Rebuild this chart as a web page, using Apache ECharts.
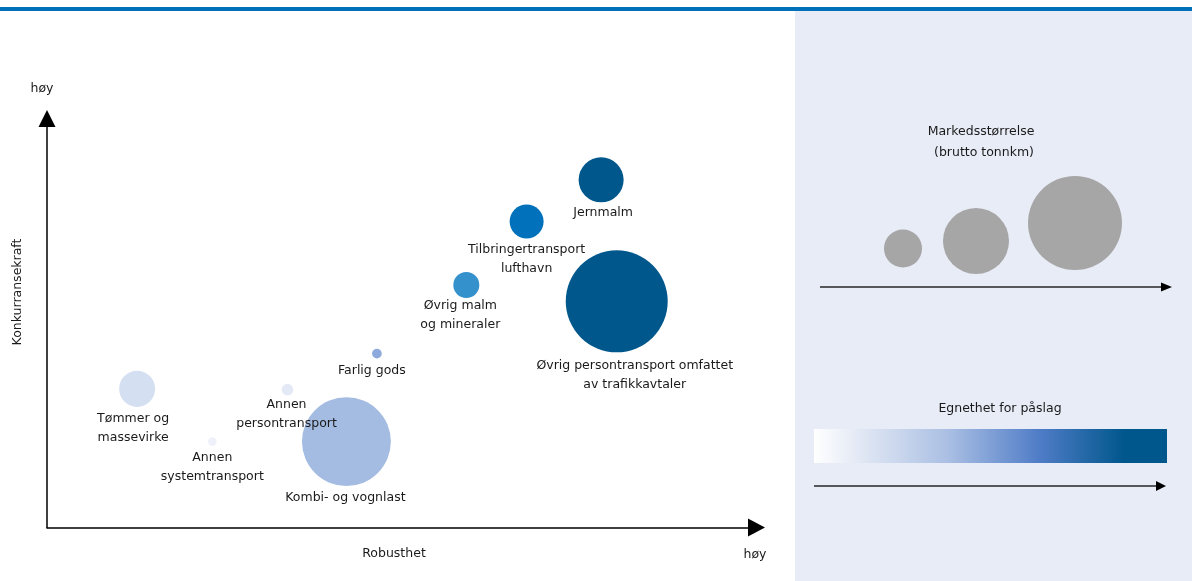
<!DOCTYPE html>
<html>
<head>
<meta charset="utf-8">
<script src="https://cdn.jsdelivr.net/npm/echarts@6/dist/echarts.min.js"></script>
<style>
  html, body { margin: 0; padding: 0; background: #ffffff; }
  #chart { width: 1192px; height: 581px; }
</style>
</head>
<body>
<div id="chart"></div>
<script>
// Markets (segments) on two scales: robustness (x) and competitiveness (y), 0–100
const segments = [
  'Tømmer og\nmassevirke',
  'Annen\nsystemtransport',
  'Annen\npersontransport',
  'Kombi- og vognlast',
  'Farlig gods',
  'Øvrig malm\nog mineraler',
  'Tilbringertransport\nlufthavn',
  'Jernmalm',
  'Øvrig persontransport omfattet\nav trafikkavtaler'
];
const robusthet       = [12.7, 23.3, 33.9, 42.2, 46.5, 59.1, 67.6, 78.1, 80.3];
const konkurransekraft = [33.9, 21.0, 33.7, 21.0, 42.5, 59.3, 74.8, 85.0, 55.3];
// Market size (gross tonne-km, indexed: largest segment = 100)
const markedsstorrelse = [12.5, 0.7, 1.3, 76.0, 0.9, 6.5, 11.1, 19.5, 100];
// Suitability for a mark-up, level 1 (low) to 8 (high)
const egnethet = [3, 1, 2, 4, 5, 6, 7, 8, 8];
// Reference sizes shown in the size key
const legendSizes = [13.9, 41.9, 84.9];

// Colour for each suitability level
const levelColors = ['#EEF1FA', '#E3E9F5', '#D4DFF1', '#A4BCE2', '#8EA9DB', '#3591CC', '#0071BA', '#00578C'];
// Label nudges [dx, dy] for each segment label
const labelShift = [[-4, 0], [0, 0], [-1, -2], [-1, 0], [-5, 1], [-6, -4], [0, 0], [2, -1], [18, 2]];

const FONT = 'DejaVu Sans';
const TEXT = '#1a1a1a';

// Bubble area proportional to market size
function diameter(size) { return 10.2 * Math.sqrt(size); }

const points = segments.map((name, i) => ({
  name: name,
  value: [robusthet[i], konkurransekraft[i], markedsstorrelse[i], egnethet[i]],
  label: { offset: labelShift[i] }
}));

const chart = echarts.init(document.getElementById('chart'), null, { renderer: 'canvas' });

const txt = (x, y, text, extra) => Object.assign({
  type: 'text', x: x, y: y,
  style: { text: text, fill: TEXT, font: '12.5px "' + FONT + '"', align: 'center', verticalAlign: 'middle' }
}, extra || {});

const arrow = (x1, x2, y, half, len, color) => ([
  { type: 'line', shape: { x1: x1, y1: y, x2: x2 - len, y2: y }, style: { stroke: color, lineWidth: 1.5 } },
  { type: 'polygon', shape: { points: [[x2 - len, y - half], [x2, y], [x2 - len, y + half]] }, style: { fill: '#000' } }
]);

const legendCircles = [[903, 248.5], [976, 241], [1075, 223]].map((c, i) => ({
  type: 'circle', shape: { cx: c[0], cy: c[1], r: diameter(legendSizes[i]) / 2 }, style: { fill: '#A6A6A6' }
}));

const option = {
  animation: false,
  backgroundColor: '#ffffff',
  textStyle: { fontFamily: FONT },
  grid: { left: 47, right: 435.5, top: 118.5, bottom: 53.5, containLabel: false },
  xAxis: {
    type: 'value', min: 0, max: 100,
    axisLine: { show: true, lineStyle: { color: '#000', width: 1.5 }, symbol: ['none', 'triangle'], symbolSize: [18, 17] },
    axisTick: { show: false }, axisLabel: { show: false }, splitLine: { show: false }
  },
  yAxis: {
    type: 'value', min: 0, max: 100,
    axisLine: { show: true, onZero: false, lineStyle: { color: '#000', width: 1.5 }, symbol: ['none', 'triangle'], symbolSize: [17, 17] },
    axisTick: { show: false }, axisLabel: { show: false }, splitLine: { show: false }
  },
  series: [{
    type: 'scatter',
    data: points,
    symbolSize: v => diameter(v[2]),
    itemStyle: { color: p => levelColors[p.value[3] - 1], opacity: 1 },
    label: {
      show: true, position: 'bottom', distance: 2,
      formatter: p => p.name,
      color: TEXT, fontFamily: FONT, fontSize: 12.5, lineHeight: 19, align: 'center'
    },
    emphasis: { disabled: true }
  }],
  graphic: [
    // key panel and header rule
    { type: 'rect', z: -10, shape: { x: 795, y: 11, width: 397, height: 570 }, style: { fill: '#E8ECF7' } },
    { type: 'rect', z: -10, shape: { x: 0, y: 7, width: 1192, height: 4 }, style: { fill: '#0070B9' } },
    // axis captions
    txt(42, 89, 'høy'),
    txt(755, 555, 'høy'),
    txt(394, 554, 'Robusthet'),
    txt(18, 292, 'Konkurransekraft', { rotation: Math.PI / 2 }),
    // size key
    txt(981, 132, 'Markedsstørrelse'),
    txt(984, 153, '(brutto tonnkm)'),
    ...legendCircles,
    ...arrow(820, 1172, 287, 4.5, 11, '#262626'),
    // suitability key
    txt(1000, 409, 'Egnethet for påslag'),
    {
      type: 'rect', shape: { x: 814, y: 429, width: 353, height: 34 },
      style: {
        fill: new echarts.graphic.LinearGradient(0, 0, 1, 0, [
          { offset: 0, color: '#FFFFFF' },
          { offset: 0.12, color: '#E4EAF5' },
          { offset: 0.38, color: '#AABFE3' },
          { offset: 0.64, color: '#4F7CC7' },
          { offset: 0.88, color: '#00578C' },
          { offset: 1, color: '#00578C' }
        ])
      }
    },
    ...arrow(814, 1166, 486, 5, 10, '#262626')
  ]
};

chart.setOption(option);
</script>
</body>
</html>
